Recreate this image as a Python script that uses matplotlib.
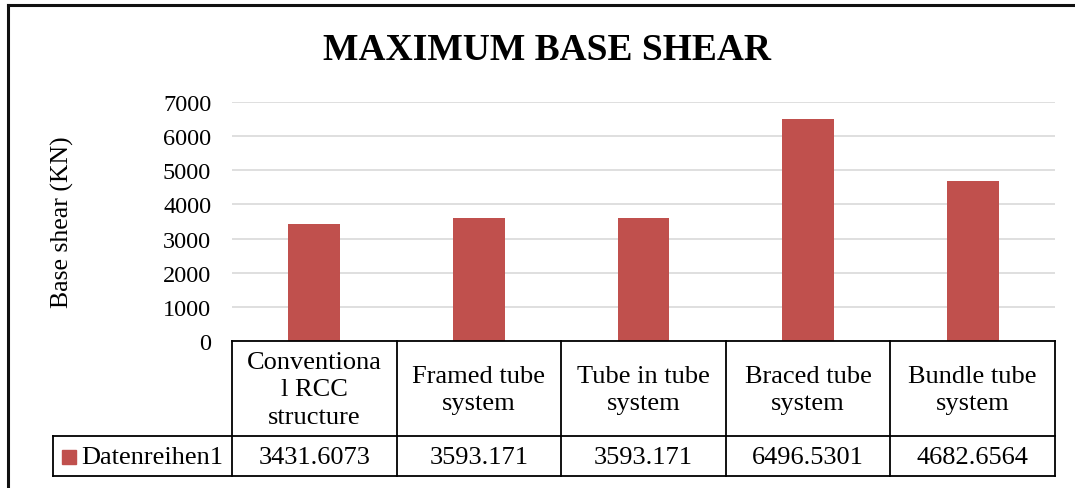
import matplotlib.pyplot as plt
import matplotlib.transforms as mtransforms
from matplotlib.patches import Rectangle

# -----------------------------
# Data
# -----------------------------
categories = ["Conventiona\nl RCC\nstructure", "Framed tube\nsystem", "Tube in tube\nsystem",
              "Braced tube\nsystem", "Bundle tube\nsystem"]
values = [3431.6073, 3593.171, 3593.171, 6496.5301, 4682.6564]
value_labels = ["3431.6073", "3593.171", "3593.171", "6496.5301", "4682.6564"]
series_name = "Datenreihen1"
yticks = [0, 1000, 2000, 3000, 4000, 5000, 6000, 7000]

bar_color = "#c0504d"
W, H = 1075, 489

plt.rcParams['font.family'] = ['Liberation Serif', 'DejaVu Serif']

fig = plt.figure(figsize=(W / 100, H / 100), dpi=100)

def fx(px):
    return px / W

def fy(py):
    return 1 - py / H

# -----------------------------
# Bar area
# -----------------------------
left, right, top, bottom = 232, 1055, 103, 342
ax = fig.add_axes([fx(left), fy(bottom), fx(right - left), fy(top) - fy(bottom)])
x = list(range(len(values)))
ax.bar(x, values, width=0.315, color=bar_color, zorder=3)
ax.set_xlim(-0.5, len(values) - 0.5)
ax.set_ylim(0, 7000)
ax.set_yticks(yticks)
ax.set_yticklabels([str(t) for t in yticks], fontsize=17.5)
ax.tick_params(axis='y', length=0, pad=15)
ax.set_xticks([])
ax.grid(axis='y', color="#d9d9d9", linewidth=1.2, zorder=0)
for s in ax.spines.values():
    s.set_visible(False)
ax.set_ylabel("Base shear (KN)", fontsize=18.5)
ax.yaxis.set_label_coords((62 - left) / (right - left), 0.5)
ax.yaxis.label.set_va('center')

fig.text(fx(547), fy(50), "MAXIMUM BASE SHEAR", fontsize=27, fontweight='bold',
         ha='center', va='center')

# -----------------------------
# Data table below the axis
# -----------------------------
row1, row2 = 437, 477
tab_left = 53
tax = fig.add_axes([fx(tab_left), fy(row2), fx(right - tab_left), fy(bottom) - fy(row2)])
tax.set_xlim(tab_left, right)
tax.set_ylim(row2, bottom)
tax.axis('off')
# x from the bar axis, y in pixels of the table axis
tr = mtransforms.blended_transform_factory(ax.transData, tax.transData)
lw = 1.3
n = len(values)
tax.plot([-0.5, n - 0.5], [bottom, bottom], color='black', lw=lw, transform=tr, clip_on=False)
for i in range(n + 1):
    tax.plot([i - 0.5, i - 0.5], [bottom, row2], color='black', lw=lw, transform=tr, clip_on=False)
tax.plot([tab_left, right], [row1, row1], color='black', lw=lw, clip_on=False)
tax.plot([tab_left, right], [row2, row2], color='black', lw=lw, clip_on=False)
tax.plot([tab_left, tab_left], [row1, row2], color='black', lw=lw, clip_on=False)

for i in range(n):
    tax.text(i, (bottom + row1) / 2 + 1, categories[i], transform=tr, ha='center', va='center',
             fontsize=19, linespacing=1.3)
    tax.text(i, (row1 + row2) / 2 + 1, value_labels[i], transform=tr, ha='center', va='center',
             fontsize=19)

tax.add_patch(Rectangle((62, 451), 14, 14, color=bar_color, clip_on=False))
tax.text(81, (row1 + row2) / 2 + 1, series_name, ha='left', va='center', fontsize=19)

# -----------------------------
# Chart border (cropped)
# -----------------------------
fig.add_artist(plt.Line2D([fx(8), fx(8)], [fy(6), 0], color='#111111', lw=2.2))
fig.add_artist(plt.Line2D([fx(8), 1], [fy(6), fy(6)], color='#111111', lw=2.2))

fig.savefig("out.png", dpi=100)
